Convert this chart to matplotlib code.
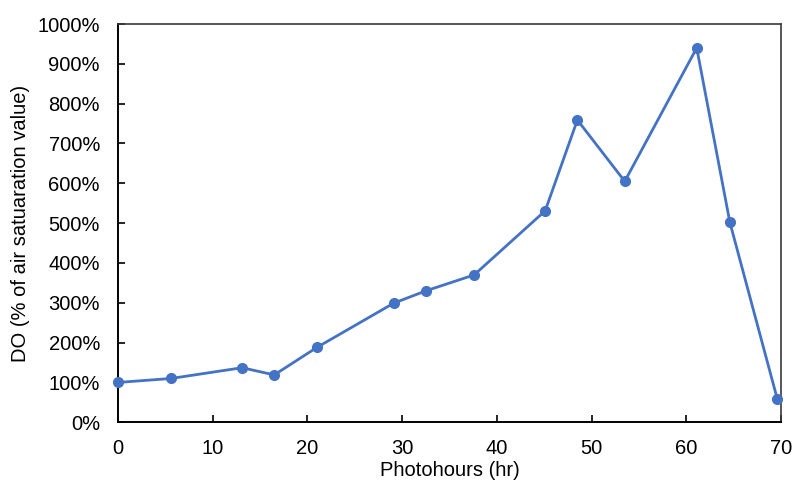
import numpy as np
import matplotlib
matplotlib.use('Agg')
from matplotlib import pyplot as plt
from matplotlib.ticker import FuncFormatter

# dissolved oxygen vs photohours
photohours = [0, 5.6, 13.1, 16.5, 21.0, 29.1, 32.5, 37.6, 45.1, 48.5, 53.5, 61.1, 64.6, 69.6]
do_percent = [100, 110, 137, 119, 188, 299, 330, 370, 531, 759, 605, 940, 502, 59]

x_ticks = [0, 10, 20, 30, 40, 50, 60, 70]
y_ticks = [0, 100, 200, 300, 400, 500, 600, 700, 800, 900, 1000]

plt.rcParams['font.family'] = ['Liberation Sans', 'DejaVu Sans']

fig = plt.figure(figsize=(7.93, 4.83), dpi=100)
ax = fig.add_axes([0.1488, 0.1257, 0.8361, 0.8246])

ax.plot(photohours, do_percent, '-o', color='#4472C4', lw=2.0, ms=7,
        clip_on=False, zorder=3)

ax.set_xlim(0, 70)
ax.set_ylim(0, 1000)
ax.set_xticks(x_ticks)
ax.set_yticks(y_ticks)
ax.yaxis.set_major_formatter(FuncFormatter(lambda v, pos: '{:.0f}%'.format(v)))

ax.tick_params(direction='in', length=5, width=1.2, labelsize=14.5, pad=13,
               colors='black')
ax.tick_params(axis='x', pad=12)

for side in ['left', 'bottom']:
    ax.spines[side].set_linewidth(1.4)
    ax.spines[side].set_color('black')
for side in ['top', 'right']:
    ax.spines[side].set_linewidth(1.2)
    ax.spines[side].set_color('#3a3a3a')

ax.set_xlabel('Photohours (hr)', fontsize=14.5, labelpad=2)
ax.set_ylabel('DO (% of air satuaration value)', fontsize=14.5, labelpad=5)

plt.savefig('out.png', dpi=100)
